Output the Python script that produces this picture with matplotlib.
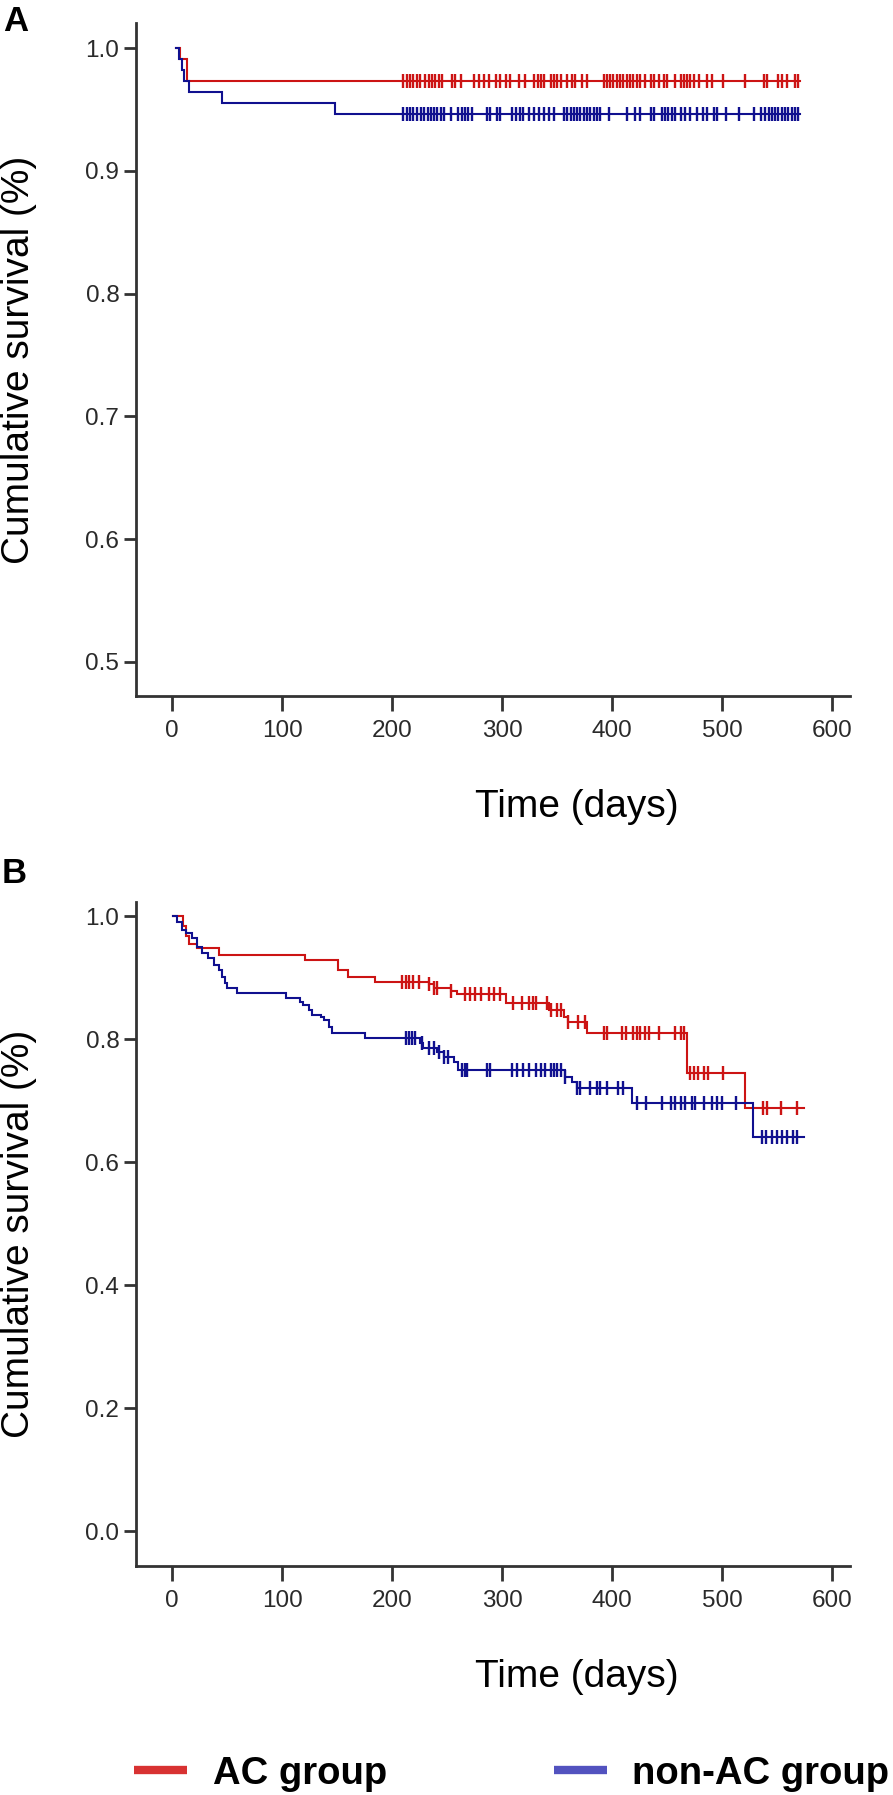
import numpy as np
import matplotlib
matplotlib.use("Agg")
import matplotlib.pyplot as plt

plt.rcParams['font.family'] = ['Liberation Sans', 'DejaVu Sans']

# ---------------- data ----------------
groups = ["AC group", "non-AC group"]

# Panel A (event times in days, survival after each event)
a_ac_start = 3
a_ac_event_t = [7, 13]
a_ac_event_s = [0.991, 0.973]
a_ac_censor = [210, 213, 216, 219, 222, 225, 230, 233, 236, 239, 242, 245, 254, 257, 262,
               274, 279, 283, 288, 294, 298, 303, 307, 315, 321, 329, 332, 335, 338,
               344, 347, 350, 353, 359, 363, 366, 372, 377, 392, 395, 398, 401, 404, 407,
               410, 413, 416, 419, 422, 425, 430, 435, 438, 442, 447, 450, 457, 462, 465,
               468, 471, 474, 479, 486, 491, 501, 521, 538, 541, 551, 554, 559, 566, 569]
a_ac_end = 571

a_non_start = 3
a_non_event_t = [6, 9, 11, 15, 45, 148]
a_non_event_s = [0.991, 0.982, 0.973, 0.964, 0.955, 0.946]
a_non_censor = [210, 213, 216, 219, 222, 226, 229, 232, 235, 238, 241, 244, 247, 253,
                260, 263, 266, 269, 272, 286, 289, 295, 298, 309, 312, 316, 319, 324, 329,
                333, 338, 342, 347, 356, 359, 362, 365, 368, 371, 374, 377, 380, 383, 386,
                389, 397, 413, 421, 425, 435, 438, 445, 448, 451, 454, 457, 462, 466, 471,
                477, 482, 486, 492, 495, 503, 515, 529, 535, 539, 542, 545, 548, 551, 554,
                557, 560, 563, 566, 569]
a_non_end = 571

# Panel B
b_ac_start = 1
b_ac_event_t = [10, 12, 15, 22, 42, 121, 151, 160, 184, 233, 238, 253, 259, 303, 342,
                356, 360, 377, 468, 521]
b_ac_event_s = [0.984, 0.967, 0.955, 0.948, 0.937, 0.928, 0.912, 0.901, 0.893, 0.889,
                0.883, 0.878, 0.873, 0.859, 0.847, 0.836, 0.828, 0.810, 0.745, 0.688]
b_ac_censor = [209, 212, 215, 219, 224, 233, 238, 241, 253, 266, 271, 275, 281, 288, 292,
               298, 310, 318, 324, 328, 331, 341, 344, 350, 353, 360, 369, 375, 392, 395,
               409, 412, 419, 422, 425, 430, 433, 442, 457, 462, 465, 471, 474, 478, 483,
               487, 501, 537, 541, 553, 568]
b_ac_end = 574

b_non_start = 1
b_non_event_t = [4, 9, 12, 18, 22, 27, 32, 38, 42, 45, 48, 50, 59, 103, 116, 119, 124,
                 127, 135, 138, 142, 145, 175, 225, 228, 241, 247, 256, 260, 357, 363,
                 368, 418, 528]
b_non_event_s = [0.990, 0.977, 0.972, 0.964, 0.950, 0.940, 0.932, 0.920, 0.912, 0.901,
                 0.891, 0.883, 0.875, 0.867, 0.860, 0.855, 0.847, 0.839, 0.836, 0.831,
                 0.820, 0.810, 0.802, 0.793, 0.785, 0.779, 0.771, 0.763, 0.750, 0.738,
                 0.730, 0.720, 0.696, 0.641]
b_non_censor = [212, 215, 218, 221, 227, 233, 238, 242, 247, 251, 263, 266, 268, 286, 289,
                309, 313, 319, 324, 331, 335, 339, 344, 347, 350, 353, 357, 368, 371, 380,
                386, 389, 395, 405, 410, 422, 431, 445, 453, 457, 462, 466, 472, 475, 483,
                491, 495, 500, 512, 536, 540, 545, 550, 554, 559, 564, 568]
b_non_end = 574

x_ticks = [0, 100, 200, 300, 400, 500, 600]
a_y_ticks = [0.5, 0.6, 0.7, 0.8, 0.9, 1.0]
b_y_ticks = [0.0, 0.2, 0.4, 0.6, 0.8, 1.0]

# ---------------- style ----------------
RED = '#cc1414'
BLUE = '#10108f'
LEG_RED = '#d83232'
LEG_BLUE = '#5252bf'
AXC = '#333333'

W, H = 893, 1795
fig = plt.figure(figsize=(W / 100, H / 100), dpi=100)


def px_axes(left, top, right, bottom):
    return fig.add_axes([left / W, 1 - bottom / H, (right - left) / W, (bottom - top) / H])


def km(ax, start, ev_t, ev_s, censor, end, color):
    t = np.array([start] + list(ev_t) + [end], dtype=float)
    s = np.array([1.0] + list(ev_s) + [ev_s[-1]], dtype=float)
    ax.step(t, s, where='post', color=color, lw=1.5, solid_joinstyle='miter')
    ct = np.array(censor, dtype=float)
    idx = np.searchsorted(np.array([start] + list(ev_t), dtype=float), ct, side='right') - 1
    cs = np.array([1.0] + list(ev_s))[idx]
    ax.plot(ct, cs, ls='none', marker='|', ms=10, mew=1.7, color=color)


def style(ax, yticks, ylim, fmt):
    ax.set_xlim(-33, 616)
    ax.set_ylim(*ylim)
    for s in ['top', 'right']:
        ax.spines[s].set_visible(False)
    for s in ['left', 'bottom']:
        ax.spines[s].set_linewidth(2.0)
        ax.spines[s].set_color(AXC)
    ax.set_xticks(x_ticks)
    ax.set_yticks(yticks)
    ax.set_yticklabels([fmt.format(v) for v in yticks])
    ax.tick_params(axis='both', direction='out', width=2.0, color=AXC,
                   labelsize=17.5, labelcolor='#2a2a2a')
    ax.tick_params(axis='y', length=9, pad=3)
    ax.tick_params(axis='x', length=11, pad=6)


# Panel A
axA = px_axes(136, 23, 850, 696)
km(axA, a_ac_start, a_ac_event_t, a_ac_event_s, a_ac_censor, a_ac_end, RED)
km(axA, a_non_start, a_non_event_t, a_non_event_s, a_non_censor, a_non_end, BLUE)
style(axA, a_y_ticks, (0.4723, 1.0204), '{:.1f}')

# Panel B
axB = px_axes(136, 902, 850, 1566)
km(axB, b_ac_start, b_ac_event_t, b_ac_event_s, b_ac_censor, b_ac_end, RED)
km(axB, b_non_start, b_non_event_t, b_non_event_s, b_non_censor, b_non_end, BLUE)
style(axB, b_y_ticks, (-0.0569, 1.0228), '{:.1f}')

# Labels
for cy in [(23 + 696) / 2, (902 + 1566) / 2]:
    fig.text(19 / W, 1 - cy / H, 'Cumulative survival (%)', rotation=90,
             ha='center', va='center', fontsize=28, color='black')
for cy in [807, 1677]:
    fig.text(577 / W, 1 - cy / H, 'Time (days)', ha='center', va='center',
             fontsize=28, color='black')

fig.text(3 / W, 1 - 31 / H, 'A', fontsize=25, fontweight='bold', ha='left', va='baseline')
fig.text(2 / W, 1 - 883 / H, 'B', fontsize=25, fontweight='bold', ha='left', va='baseline')

# Legend
leg_y = 1 - 1770 / H
for (x0, x1, tx), col, name in zip([(134, 187, 213), (554, 607, 632)],
                                   [LEG_RED, LEG_BLUE], groups):
    fig.add_artist(plt.Line2D([x0 / W, x1 / W], [leg_y, leg_y], color=col, lw=6,
                              solid_capstyle='butt', transform=fig.transFigure))
    fig.text(tx / W, leg_y, name, fontsize=27.5, fontweight='bold', ha='left',
             va='center_baseline', color='black')

fig.savefig('out.png', dpi=100)
